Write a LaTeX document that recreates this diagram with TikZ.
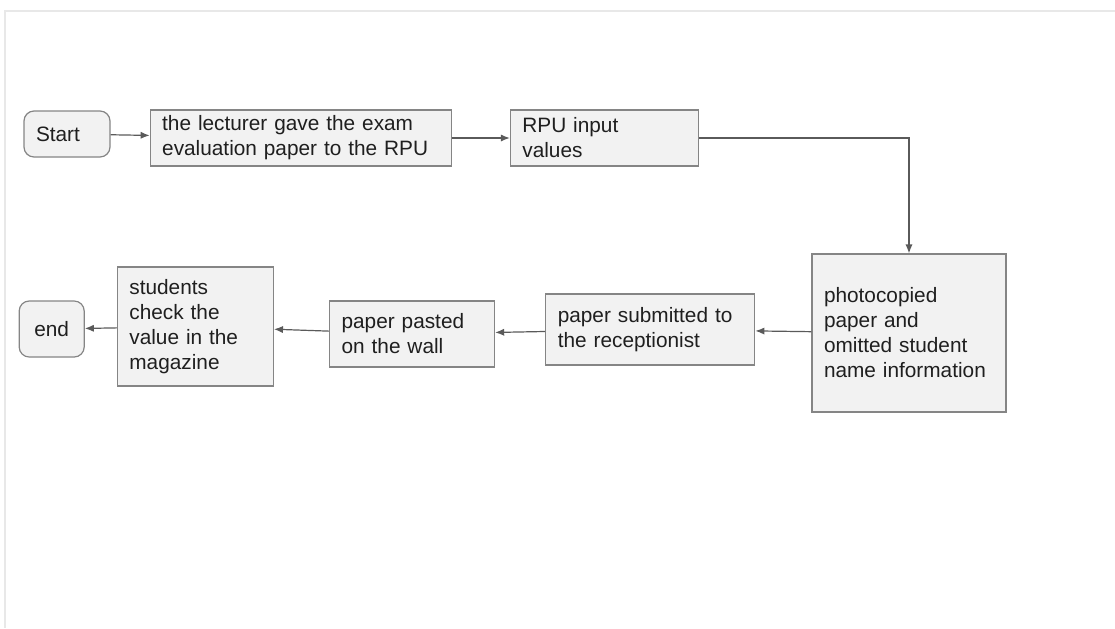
\documentclass[tikz,border=0pt]{standalone}
\usepackage{fontspec}
\setmainfont{Liberation Sans}
\usepackage{tikz}
\usetikzlibrary{arrows.meta,positioning}
\definecolor{boxfill}{HTML}{F2F2F2}
\definecolor{boxline}{HTML}{858585}
\definecolor{arrline}{HTML}{5A5A5A}
\tikzset{
  stepbox/.style={draw=boxline, fill=boxfill, rectangle, line width=0.6pt, align=left,
    inner xsep=6pt, inner ysep=0pt, text=black!88,
    font=\fontsize{10.4}{12.5}\selectfont},
  term/.style={stepbox, rounded corners=5pt},
  arr/.style={draw=arrline, line width=0.6pt, -{Latex[length=4.5pt,width=3.6pt]}},
}

\begin{document}
\begin{tikzpicture}
\useasboundingbox (0,0) rectangle (557.5pt,-314pt);
% page frame
\draw[black!9, line width=1pt] (2.5pt,-314pt) -- (2.5pt,-5.5pt) -- (557.5pt,-5.5pt);
% top row
\node[term, text width=31pt, minimum height=23pt] (start) at (33.5pt,-67pt) {Start};
\node[stepbox, text width=138.5pt, minimum height=28pt, right=19.5pt of start, yshift=-2pt] (lect)
  {the lecturer gave the exam\\evaluation paper to the RPU};
\node[stepbox, text width=82pt, minimum height=28pt, right=29pt of lect] (rpu)
  {RPU input\\values};
% bottom row
\node[stepbox, text width=85pt, minimum height=79pt] (photo) at (454.5pt,-166.5pt)
  {photocopied\\paper and\\omitted student\\name information};
\node[stepbox, text width=92.5pt, minimum height=35.5pt, left=28pt of photo, yshift=1.75pt] (recep)
  {paper submitted to\\the receptionist};
\node[stepbox, text width=70.5pt, minimum height=33pt, left=25pt of recep, yshift=-2.25pt] (paste)
  {paper pasted\\on the wall};
\node[stepbox, text width=66pt, minimum height=59.5pt, left=27.5pt of paste, yshift=3.75pt] (check)
  {students\\check the\\value in the\\magazine};
\node[term, text width=20.5pt, align=center, minimum height=28pt, left=16pt of check, yshift=-1.25pt] (end) {end};
% connectors
\draw[arr] (start) -- (lect);
\draw[arr] (lect) -- (rpu);
\draw[arr] (rpu.east) -| (photo.north);
\draw[arr] (photo) -- (recep);
\draw[arr] (recep) -- (paste);
\draw[arr] (paste) -- (check);
\draw[arr] (check) -- (end);
\end{tikzpicture}
\end{document}
